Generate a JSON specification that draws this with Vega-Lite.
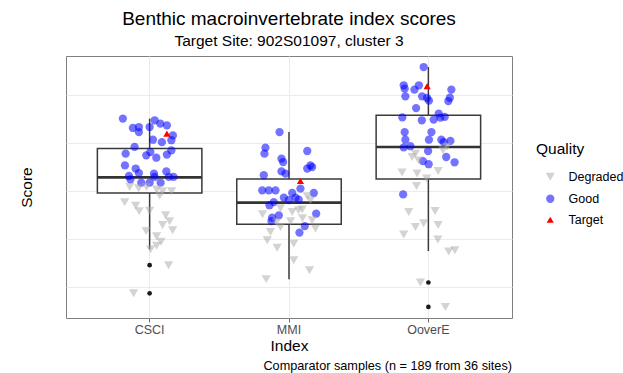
{
  "$schema": "https://vega.github.io/schema/vega-lite/v6.json",
  "autosize": "none",
  "width": 446,
  "height": 262,
  "padding": {"left": 66, "top": 56, "right": 111, "bottom": 55},
  "background": "white",
  "config": {
    "font": "Liberation Sans",
    "view": {"stroke": "#7f7f7f", "strokeWidth": 1, "fill": "white"},
    "axis": {"gridColor": "#ebebeb", "gridWidth": 1}
  },
  "title": {
    "text": "Benthic macroinvertebrate index scores",
    "subtitle": "Target Site: 902S01097, cluster 3",
    "anchor": "middle",
    "frame": "group",
    "fontSize": 19,
    "fontWeight": "normal",
    "color": "black",
    "subtitleFontSize": 15.5,
    "subtitleColor": "black",
    "subtitlePadding": 5,
    "offset": 7
  },
  "datasets": {
    "boxes": [
      {"index": "CSCI", "lower": 0.558, "q1": 0.793, "median": 0.858, "q3": 0.978, "upper": 1.103},
      {"index": "MMI", "lower": 0.434, "q1": 0.6625, "median": 0.753, "q3": 0.851, "upper": 1.047},
      {"index": "OoverE", "lower": 0.551, "q1": 0.851, "median": 0.985, "q3": 1.117, "upper": 1.318}
    ],
    "outliers": [
      {"index": "CSCI", "score": 0.492},
      {"index": "CSCI", "score": 0.375},
      {"index": "OoverE", "score": 0.420},
      {"index": "OoverE", "score": 0.318}
    ],
    "samples": [
      {"index": "CSCI", "quality": "Good", "score": 1.103, "jitter": -0.192},
      {"index": "CSCI", "quality": "Good", "score": 1.064, "jitter": -0.120},
      {"index": "CSCI", "quality": "Good", "score": 1.068, "jitter": -0.077},
      {"index": "CSCI", "quality": "Good", "score": 1.047, "jitter": -0.077},
      {"index": "CSCI", "quality": "Good", "score": 1.068, "jitter": 0.000},
      {"index": "CSCI", "quality": "Good", "score": 1.096, "jitter": 0.036},
      {"index": "CSCI", "quality": "Good", "score": 1.082, "jitter": 0.077},
      {"index": "CSCI", "quality": "Good", "score": 1.075, "jitter": 0.124},
      {"index": "CSCI", "quality": "Good", "score": 1.033, "jitter": 0.167},
      {"index": "CSCI", "quality": "Good", "score": 1.015, "jitter": 0.024},
      {"index": "CSCI", "quality": "Good", "score": 1.005, "jitter": 0.088},
      {"index": "CSCI", "quality": "Good", "score": 1.013, "jitter": 0.156},
      {"index": "CSCI", "quality": "Good", "score": 0.985, "jitter": -0.108},
      {"index": "CSCI", "quality": "Good", "score": 0.957, "jitter": -0.172},
      {"index": "CSCI", "quality": "Good", "score": 0.950, "jitter": -0.024},
      {"index": "CSCI", "quality": "Good", "score": 0.964, "jitter": 0.005},
      {"index": "CSCI", "quality": "Good", "score": 0.940, "jitter": 0.048},
      {"index": "CSCI", "quality": "Good", "score": 0.953, "jitter": 0.124},
      {"index": "CSCI", "quality": "Good", "score": 0.971, "jitter": 0.156},
      {"index": "CSCI", "quality": "Good", "score": 0.908, "jitter": -0.177},
      {"index": "CSCI", "quality": "Good", "score": 0.895, "jitter": -0.100},
      {"index": "CSCI", "quality": "Good", "score": 0.876, "jitter": -0.077},
      {"index": "CSCI", "quality": "Good", "score": 0.864, "jitter": -0.148},
      {"index": "CSCI", "quality": "Good", "score": 0.874, "jitter": 0.031},
      {"index": "CSCI", "quality": "Good", "score": 0.883, "jitter": 0.120},
      {"index": "CSCI", "quality": "Good", "score": 0.860, "jitter": 0.138},
      {"index": "CSCI", "quality": "Good", "score": 0.860, "jitter": 0.172},
      {"index": "CSCI", "quality": "Good", "score": 0.850, "jitter": -0.138},
      {"index": "CSCI", "quality": "Good", "score": 0.836, "jitter": -0.060},
      {"index": "CSCI", "quality": "Good", "score": 0.836, "jitter": 0.000},
      {"index": "CSCI", "quality": "Good", "score": 0.836, "jitter": 0.079},
      {"index": "CSCI", "quality": "Good", "score": 0.860, "jitter": 0.036},
      {"index": "CSCI", "quality": "Degraded", "score": 0.818, "jitter": -0.143},
      {"index": "CSCI", "quality": "Degraded", "score": 0.813, "jitter": -0.079},
      {"index": "CSCI", "quality": "Degraded", "score": 0.818, "jitter": -0.022},
      {"index": "CSCI", "quality": "Degraded", "score": 0.808, "jitter": 0.050},
      {"index": "CSCI", "quality": "Degraded", "score": 0.800, "jitter": 0.093},
      {"index": "CSCI", "quality": "Degraded", "score": 0.800, "jitter": 0.158},
      {"index": "CSCI", "quality": "Degraded", "score": 0.783, "jitter": 0.072},
      {"index": "CSCI", "quality": "Degraded", "score": 0.754, "jitter": -0.179},
      {"index": "CSCI", "quality": "Degraded", "score": 0.740, "jitter": -0.100},
      {"index": "CSCI", "quality": "Degraded", "score": 0.717, "jitter": -0.075},
      {"index": "CSCI", "quality": "Degraded", "score": 0.719, "jitter": 0.000},
      {"index": "CSCI", "quality": "Degraded", "score": 0.700, "jitter": 0.115},
      {"index": "CSCI", "quality": "Degraded", "score": 0.675, "jitter": 0.143},
      {"index": "CSCI", "quality": "Degraded", "score": 0.660, "jitter": 0.093},
      {"index": "CSCI", "quality": "Degraded", "score": 0.638, "jitter": 0.165},
      {"index": "CSCI", "quality": "Degraded", "score": 0.635, "jitter": -0.025},
      {"index": "CSCI", "quality": "Degraded", "score": 0.613, "jitter": 0.050},
      {"index": "CSCI", "quality": "Degraded", "score": 0.590, "jitter": 0.082},
      {"index": "CSCI", "quality": "Degraded", "score": 0.573, "jitter": 0.050},
      {"index": "CSCI", "quality": "Degraded", "score": 0.558, "jitter": 0.007},
      {"index": "CSCI", "quality": "Degraded", "score": 0.492, "jitter": 0.136},
      {"index": "CSCI", "quality": "Degraded", "score": 0.375, "jitter": -0.115},
      {"index": "MMI", "quality": "Good", "score": 1.047, "jitter": -0.068},
      {"index": "MMI", "quality": "Good", "score": 0.982, "jitter": -0.169},
      {"index": "MMI", "quality": "Good", "score": 0.957, "jitter": -0.176},
      {"index": "MMI", "quality": "Good", "score": 0.936, "jitter": -0.054},
      {"index": "MMI", "quality": "Good", "score": 0.922, "jitter": -0.042},
      {"index": "MMI", "quality": "Good", "score": 0.968, "jitter": 0.131},
      {"index": "MMI", "quality": "Good", "score": 0.908, "jitter": 0.154},
      {"index": "MMI", "quality": "Good", "score": 0.901, "jitter": 0.166},
      {"index": "MMI", "quality": "Good", "score": 0.895, "jitter": 0.131},
      {"index": "MMI", "quality": "Good", "score": 0.883, "jitter": -0.054},
      {"index": "MMI", "quality": "Good", "score": 0.874, "jitter": -0.025},
      {"index": "MMI", "quality": "Good", "score": 0.867, "jitter": -0.181},
      {"index": "MMI", "quality": "Good", "score": 0.811, "jitter": 0.082},
      {"index": "MMI", "quality": "Good", "score": 0.804, "jitter": -0.192},
      {"index": "MMI", "quality": "Good", "score": 0.804, "jitter": -0.145},
      {"index": "MMI", "quality": "Good", "score": 0.804, "jitter": -0.097},
      {"index": "MMI", "quality": "Good", "score": 0.793, "jitter": 0.178},
      {"index": "MMI", "quality": "Good", "score": 0.793, "jitter": 0.023},
      {"index": "MMI", "quality": "Good", "score": 0.774, "jitter": -0.037},
      {"index": "MMI", "quality": "Good", "score": 0.763, "jitter": -0.001},
      {"index": "MMI", "quality": "Good", "score": 0.774, "jitter": 0.047},
      {"index": "MMI", "quality": "Good", "score": 0.765, "jitter": 0.070},
      {"index": "MMI", "quality": "Good", "score": 0.755, "jitter": -0.109},
      {"index": "MMI", "quality": "Good", "score": 0.742, "jitter": -0.140},
      {"index": "MMI", "quality": "Good", "score": 0.700, "jitter": -0.073},
      {"index": "MMI", "quality": "Good", "score": 0.690, "jitter": -0.121},
      {"index": "MMI", "quality": "Good", "score": 0.676, "jitter": -0.126},
      {"index": "MMI", "quality": "Good", "score": 0.707, "jitter": 0.195},
      {"index": "MMI", "quality": "Good", "score": 0.655, "jitter": 0.113},
      {"index": "MMI", "quality": "Good", "score": 0.628, "jitter": 0.075},
      {"index": "MMI", "quality": "Degraded", "score": 0.714, "jitter": 0.023},
      {"index": "MMI", "quality": "Degraded", "score": 0.724, "jitter": 0.095},
      {"index": "MMI", "quality": "Degraded", "score": 0.651, "jitter": -0.061},
      {"index": "MMI", "quality": "Degraded", "score": 0.630, "jitter": -0.133},
      {"index": "MMI", "quality": "Degraded", "score": 0.596, "jitter": -0.156},
      {"index": "MMI", "quality": "Degraded", "score": 0.565, "jitter": -0.085},
      {"index": "MMI", "quality": "Degraded", "score": 0.582, "jitter": 0.034},
      {"index": "MMI", "quality": "Degraded", "score": 0.645, "jitter": 0.190},
      {"index": "MMI", "quality": "Degraded", "score": 0.679, "jitter": 0.166},
      {"index": "MMI", "quality": "Degraded", "score": 0.513, "jitter": 0.034},
      {"index": "MMI", "quality": "Degraded", "score": 0.471, "jitter": 0.147},
      {"index": "MMI", "quality": "Degraded", "score": 0.434, "jitter": -0.164},
      {"index": "MMI", "quality": "Degraded", "score": 0.763, "jitter": 0.154},
      {"index": "MMI", "quality": "Degraded", "score": 0.779, "jitter": 0.131},
      {"index": "MMI", "quality": "Degraded", "score": 0.729, "jitter": -0.061},
      {"index": "MMI", "quality": "Degraded", "score": 0.721, "jitter": 0.068},
      {"index": "MMI", "quality": "Degraded", "score": 0.704, "jitter": -0.190},
      {"index": "MMI", "quality": "Degraded", "score": 0.675, "jitter": 0.011},
      {"index": "MMI", "quality": "Degraded", "score": 0.671, "jitter": -0.090},
      {"index": "MMI", "quality": "Degraded", "score": 0.688, "jitter": 0.097},
      {"index": "OoverE", "quality": "Good", "score": 1.318, "jitter": -0.034},
      {"index": "OoverE", "quality": "Good", "score": 1.242, "jitter": -0.177},
      {"index": "OoverE", "quality": "Good", "score": 1.228, "jitter": -0.170},
      {"index": "OoverE", "quality": "Good", "score": 1.224, "jitter": -0.100},
      {"index": "OoverE", "quality": "Good", "score": 1.242, "jitter": -0.068},
      {"index": "OoverE", "quality": "Good", "score": 1.224, "jitter": 0.165},
      {"index": "OoverE", "quality": "Good", "score": 1.196, "jitter": -0.165},
      {"index": "OoverE", "quality": "Good", "score": 1.196, "jitter": -0.045},
      {"index": "OoverE", "quality": "Good", "score": 1.189, "jitter": -0.009},
      {"index": "OoverE", "quality": "Good", "score": 1.178, "jitter": 0.004},
      {"index": "OoverE", "quality": "Good", "score": 1.190, "jitter": 0.154},
      {"index": "OoverE", "quality": "Good", "score": 1.176, "jitter": 0.143},
      {"index": "OoverE", "quality": "Good", "score": 1.147, "jitter": -0.088},
      {"index": "OoverE", "quality": "Good", "score": 1.108, "jitter": -0.187},
      {"index": "OoverE", "quality": "Good", "score": 1.096, "jitter": -0.047},
      {"index": "OoverE", "quality": "Good", "score": 1.099, "jitter": 0.038},
      {"index": "OoverE", "quality": "Good", "score": 1.124, "jitter": 0.074},
      {"index": "OoverE", "quality": "Good", "score": 1.107, "jitter": 0.086},
      {"index": "OoverE", "quality": "Good", "score": 1.110, "jitter": 0.117},
      {"index": "OoverE", "quality": "Good", "score": 1.047, "jitter": -0.170},
      {"index": "OoverE", "quality": "Good", "score": 1.047, "jitter": 0.022},
      {"index": "OoverE", "quality": "Good", "score": 1.015, "jitter": -0.165},
      {"index": "OoverE", "quality": "Good", "score": 1.015, "jitter": 0.004},
      {"index": "OoverE", "quality": "Good", "score": 1.015, "jitter": 0.093},
      {"index": "OoverE", "quality": "Good", "score": 1.005, "jitter": 0.110},
      {"index": "OoverE", "quality": "Good", "score": 1.010, "jitter": 0.158},
      {"index": "OoverE", "quality": "Good", "score": 0.983, "jitter": -0.177},
      {"index": "OoverE", "quality": "Good", "score": 0.988, "jitter": -0.129},
      {"index": "OoverE", "quality": "Good", "score": 0.968, "jitter": -0.002},
      {"index": "OoverE", "quality": "Good", "score": 0.943, "jitter": 0.128},
      {"index": "OoverE", "quality": "Good", "score": 0.926, "jitter": -0.039},
      {"index": "OoverE", "quality": "Good", "score": 0.913, "jitter": 0.002},
      {"index": "OoverE", "quality": "Good", "score": 0.921, "jitter": 0.188},
      {"index": "OoverE", "quality": "Good", "score": 0.787, "jitter": -0.181},
      {"index": "OoverE", "quality": "Degraded", "score": 0.943, "jitter": -0.117},
      {"index": "OoverE", "quality": "Degraded", "score": 0.929, "jitter": -0.070},
      {"index": "OoverE", "quality": "Degraded", "score": 0.957, "jitter": -0.093},
      {"index": "OoverE", "quality": "Degraded", "score": 0.986, "jitter": 0.134},
      {"index": "OoverE", "quality": "Degraded", "score": 0.971, "jitter": 0.105},
      {"index": "OoverE", "quality": "Degraded", "score": 0.878, "jitter": -0.189},
      {"index": "OoverE", "quality": "Degraded", "score": 0.874, "jitter": -0.081},
      {"index": "OoverE", "quality": "Degraded", "score": 0.885, "jitter": 0.070},
      {"index": "OoverE", "quality": "Degraded", "score": 0.853, "jitter": -0.012},
      {"index": "OoverE", "quality": "Degraded", "score": 0.822, "jitter": -0.085},
      {"index": "OoverE", "quality": "Degraded", "score": 0.714, "jitter": -0.141},
      {"index": "OoverE", "quality": "Degraded", "score": 0.718, "jitter": 0.048},
      {"index": "OoverE", "quality": "Degraded", "score": 0.651, "jitter": -0.093},
      {"index": "OoverE", "quality": "Degraded", "score": 0.667, "jitter": -0.034},
      {"index": "OoverE", "quality": "Degraded", "score": 0.660, "jitter": 0.070},
      {"index": "OoverE", "quality": "Degraded", "score": 0.620, "jitter": -0.177},
      {"index": "OoverE", "quality": "Degraded", "score": 0.599, "jitter": 0.068},
      {"index": "OoverE", "quality": "Degraded", "score": 0.549, "jitter": 0.146},
      {"index": "OoverE", "quality": "Degraded", "score": 0.554, "jitter": 0.190},
      {"index": "OoverE", "quality": "Degraded", "score": 0.420, "jitter": -0.057},
      {"index": "OoverE", "quality": "Degraded", "score": 0.318, "jitter": 0.122},
      {"index": "CSCI", "quality": "Target", "score": 1.040, "jitter": 0.124},
      {"index": "MMI", "quality": "Target", "score": 0.843, "jitter": 0.082},
      {"index": "OoverE", "quality": "Target", "score": 1.238, "jitter": -0.009}
    ]
  },
  "layer": [
    {
      "data": {"name": "boxes"},
      "mark": {"type": "rule", "color": "#3a3a3a", "strokeWidth": 1.5},
      "encoding": {
        "x": {
          "field": "index", "type": "nominal", "title": "Index",
          "sort": ["CSCI", "MMI", "OoverE"],
          "scale": {"type": "band", "paddingInner": 0, "paddingOuter": 0.1},
          "axis": {
            "labelAngle": 0, "labelFontSize": 12.5, "labelColor": "#4d4d4d",
            "labelPadding": 1, "tickSize": 4, "tickColor": "#6b6b6b",
            "domain": false, "grid": true, "bandPosition": 0.5,
            "titleFontSize": 15.5, "titleFontWeight": "normal", "titleColor": "black",
            "titlePadding": 3
          }
        },
        "y": {
          "field": "lower", "type": "quantitative", "title": "Score",
          "scale": {"domain": [0.272, 1.364], "nice": false, "zero": false},
          "axis": {
            "values": [0.4, 0.6, 0.8, 1.0, 1.2], "labels": false, "ticks": false,
            "domain": false, "grid": true,
            "titleFontSize": 15.5, "titleFontWeight": "normal", "titleColor": "black",
            "titlePadding": 32
          }
        },
        "y2": {"field": "upper"}
      }
    },
    {
      "data": {"name": "boxes"},
      "mark": {"type": "bar", "width": 104.5, "fill": "white", "stroke": "#3a3a3a", "strokeWidth": 1.5},
      "encoding": {
        "x": {"field": "index", "type": "nominal", "title": "Index", "sort": ["CSCI", "MMI", "OoverE"]},
        "y": {"field": "q1", "type": "quantitative", "title": "Score"},
        "y2": {"field": "q3"}
      }
    },
    {
      "data": {"name": "boxes"},
      "mark": {"type": "tick", "color": "#333333", "thickness": 2.6, "size": 104.5, "opacity": 1},
      "encoding": {
        "x": {"field": "index", "type": "nominal", "title": "Index", "sort": ["CSCI", "MMI", "OoverE"]},
        "y": {"field": "median", "type": "quantitative", "title": "Score"}
      }
    },
    {
      "data": {"name": "outliers"},
      "mark": {"type": "point", "filled": true, "shape": "circle", "size": 22, "color": "#1a1a1a", "opacity": 1},
      "encoding": {
        "x": {"field": "index", "type": "nominal", "title": "Index", "sort": ["CSCI", "MMI", "OoverE"]},
        "y": {"field": "score", "type": "quantitative", "title": "Score"}
      }
    },
    {
      "data": {"name": "samples"},
      "mark": {"type": "point", "filled": true, "strokeWidth": 0, "opacity": 1},
      "encoding": {
        "x": {"field": "index", "type": "nominal", "title": "Index", "sort": ["CSCI", "MMI", "OoverE"]},
        "xOffset": {"field": "jitter", "type": "quantitative", "scale": {"domain": [-0.5, 0.5]}},
        "y": {"field": "score", "type": "quantitative", "title": "Score"},
        "color": {
          "field": "quality", "type": "nominal", "title": "Quality",
          "scale": {
            "domain": ["Degraded", "Good", "Target"],
            "range": ["rgba(168,168,168,0.5)", "rgba(0,0,255,0.55)", "#ff0000"]
          },
          "legend": {
            "orient": "none", "legendX": 470, "legendY": 86,
            "titleFontSize": 15.5, "titleFontWeight": "normal", "titleColor": "black",
            "titlePadding": 13, "labelFontSize": 12.5, "labelColor": "black",
            "symbolOffset": 8, "labelOffset": 12, "rowPadding": 7, "symbolOpacity": 1
          }
        },
        "shape": {
          "field": "quality", "type": "nominal", "title": "Quality",
          "scale": {"domain": ["Degraded", "Good", "Target"], "range": ["triangle-down", "circle", "triangle-up"]}
        },
        "size": {
          "field": "quality", "type": "nominal", "title": "Quality",
          "scale": {"domain": ["Degraded", "Good", "Target"], "range": [85, 52, 78]}
        }
      }
    },
    {
      "data": {"values": [{"caption": "Comparator samples (n = 189 from 36 sites)"}]},
      "mark": {"type": "text", "align": "right", "baseline": "alphabetic", "fontSize": 12.7, "color": "black", "dy": 52},
      "encoding": {
        "text": {"field": "caption"},
        "x": {"value": "width"},
        "y": {"value": "height"}
      }
    }
  ]
}
